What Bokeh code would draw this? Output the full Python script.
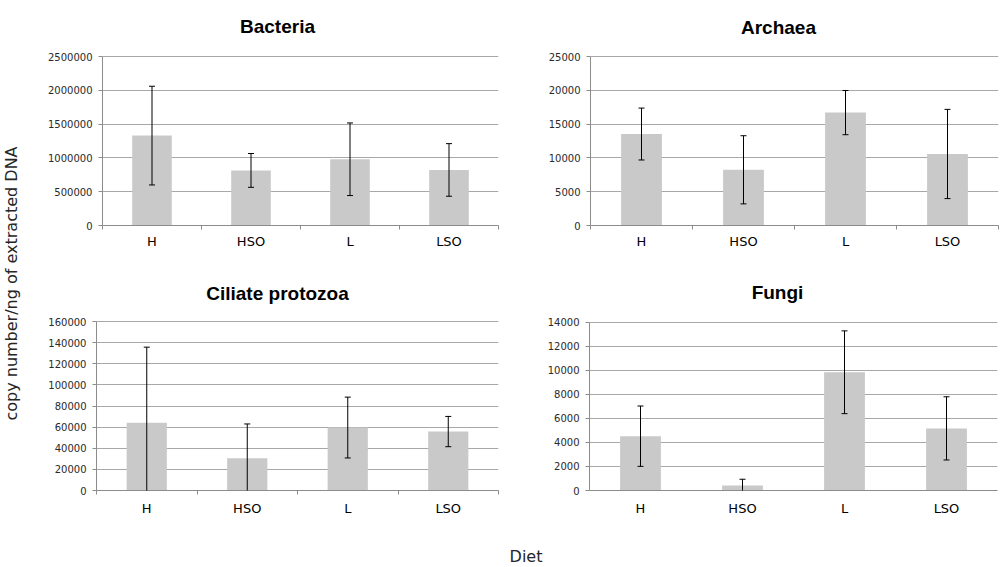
from math import pi
from bokeh.plotting import figure
from bokeh.layouts import row, column
from bokeh.models import (ColumnDataSource, Range1d, LinearAxis,
                          FixedTicker, NumeralTickFormatter, Whisker, TeeHead, Label)
from bokeh.embed import file_html
from bokeh.resources import INLINE

# ---------------- data ----------------
diets = ["H", "HSO", "L", "LSO"]

bacteria_mean = [1330000, 815000, 980000, 822000]
bacteria_err = [730000, 250000, 537000, 389000]

archaea_mean = [13530, 8240, 16700, 10580]
archaea_err = [3840, 5040, 3270, 6600]

ciliate_mean = [64200, 30550, 59600, 55800]
ciliate_err = [71500, 32440, 28800, 14330]

fungi_mean = [4520, 413, 9840, 5170]
fungi_err = [2510, 524, 3445, 2630]

bacteria_ticks = [0, 500000, 1000000, 1500000, 2000000, 2500000]
archaea_ticks = [0, 5000, 10000, 15000, 20000, 25000]
ciliate_ticks = [0, 20000, 40000, 60000, 80000, 100000, 120000, 140000, 160000]
fungi_ticks = [0, 2000, 4000, 6000, 8000, 10000, 12000, 14000]

y_title = "copy number/ng of extracted DNA"
x_title = "Diet"

# ---------------- style ----------------
BAR = "#c9c9c9"
GRID = "#a8a8a8"
AXIS = "#8c8c8c"
TXT = "#2a2a2a"
TICK_FONT = "DejaVu Sans"
TITLE_FONT = "Liberation Sans"
DATA_H = 169  # pixel height of the value area of every panel


def panel(title, mean, err, ticks, w, h, bl, br, bt, bb, tx, ty,
          edge_ticks=True, cat_standoff=4):
    n = len(diets)
    centers = [i + 0.5 for i in range(n)]          # category slots on the x scale
    src = ColumnDataSource(dict(
        x=centers, top=mean,
        upper=[m + e for m, e in zip(mean, err)],
        lower=[m - e for m, e in zip(mean, err)],
    ))
    frame_h = h - bt - bb
    # the frame also holds the title area above the value axis
    y_end = ticks[-1] * frame_h / DATA_H
    p = figure(width=w, height=h,
               x_range=Range1d(0, n), y_range=Range1d(ticks[0], y_end),
               x_axis_location=None, y_axis_location="left",
               output_backend="svg", toolbar_location=None,
               min_border_left=bl, min_border_right=br,
               min_border_top=bt, min_border_bottom=bb)
    p.outline_line_color = None
    p.background_fill_color = "white"
    p.border_fill_color = "white"
    p.xgrid.visible = False
    p.ygrid.grid_line_color = GRID
    p.ygrid.grid_line_width = 1

    ya = p.yaxis[0]
    ya.ticker = FixedTicker(ticks=ticks)
    ya.bounds = (ticks[0], ticks[-1])
    ya.formatter = NumeralTickFormatter(format="0")
    ya.axis_line_color = AXIS
    ya.major_tick_line_color = AXIS
    ya.major_tick_out = 4
    ya.major_tick_in = 0
    ya.minor_tick_line_color = None
    ya.major_label_standoff = 6
    ya.major_label_text_font = TICK_FONT
    ya.major_label_text_font_size = "10px"
    ya.major_label_text_color = TXT

    edge_axis = LinearAxis(ticker=FixedTicker(ticks=list(range(n + 1))),
                           major_label_overrides={i: "" for i in range(n + 1)},
                           major_label_text_font_size="0px",
                           major_label_standoff=0,
                           major_tick_in=0, major_tick_out=4,
                           major_tick_line_color=AXIS if edge_ticks else None,
                           minor_tick_line_color=None,
                           axis_line_color=AXIS)
    p.add_layout(edge_axis, "below")
    cat_axis = LinearAxis(ticker=FixedTicker(ticks=centers),
                          major_label_overrides={c: d for c, d in zip(centers, diets)},
                          axis_line_color=None, major_tick_line_color=None,
                          minor_tick_line_color=None,
                          major_tick_out=0, major_tick_in=0,
                          major_label_standoff=cat_standoff,
                          major_label_text_font=TICK_FONT,
                          major_label_text_font_size="13px",
                          major_label_text_color="black")
    p.add_layout(cat_axis, "below")

    p.vbar(x="x", top="top", width=0.4, source=src, fill_color=BAR, line_color=None)
    wk = Whisker(source=src, base="x", upper="upper", lower="lower",
                 line_color="black", line_width=1, level="overlay",
                 upper_head=TeeHead(size=6, line_color="black", line_width=1),
                 lower_head=TeeHead(size=6, line_color="black", line_width=1))
    p.add_layout(wk)

    p.add_layout(Label(x=tx, y=ty, x_units="screen", y_units="screen", text=title,
                       text_font=TITLE_FONT, text_font_style="bold",
                       text_font_size="19px", text_color="black",
                       text_align="center", text_baseline="alphabetic"))
    return p


p1 = panel("Bacteria", bacteria_mean, bacteria_err, bacteria_ticks,
           496, 270, 58, 42, 10, 45, 175, 199)
p2 = panel("Archaea", archaea_mean, archaea_err, archaea_ticks,
           460, 270, 50, 2, 10, 45, 188, 198)
p3 = panel("Ciliate protozoa", ciliate_mean, ciliate_err, ciliate_ticks,
           496, 260, 52, 42, 2, 40, 181, 197, cat_standoff=6)
p4 = panel("Fungi", fungi_mean, fungi_err, fungi_ticks,
           460, 260, 49, 3, 2, 39, 188, 198, edge_ticks=False, cat_standoff=6)


def text_fig(w, h):
    f = figure(width=w, height=h, x_range=Range1d(0, 1), y_range=Range1d(0, 1),
               x_axis_location=None, y_axis_location=None,
               output_backend="svg", toolbar_location=None, min_border=0)
    f.outline_line_color = None
    f.xgrid.visible = False
    f.ygrid.visible = False
    return f


ylab = text_fig(44, 567)
ylab.add_layout(Label(x=10.5, y=284, x_units="screen", y_units="screen", text=y_title,
                      angle=pi / 2, text_font="DejaVu Sans", text_font_size="16px",
                      text_color="#262626", text_align="center", text_baseline="alphabetic"))

xlab = text_fig(956, 37)
xlab.add_layout(Label(x=481.5, y=11, x_units="screen", y_units="screen", text=x_title,
                      text_font="DejaVu Sans", text_font_size="16px",
                      text_color="#262626", text_align="center", text_baseline="alphabetic"))

layout = row(ylab, column(row(p1, p2), row(p3, p4), xlab))

open("out.html", "w").write(file_html(layout, INLINE))
